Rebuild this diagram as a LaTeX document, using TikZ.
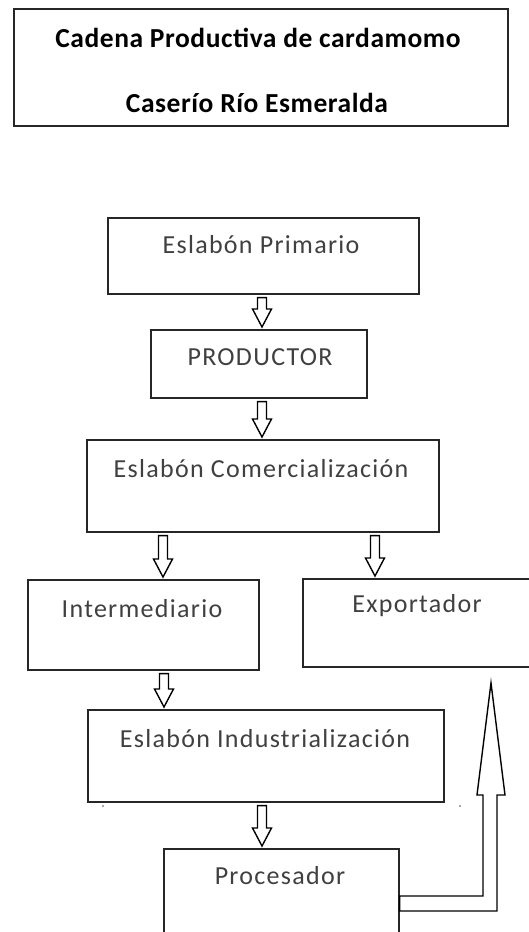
\documentclass[tikz,border=0pt]{standalone}
\usepackage{fontspec}
\setmainfont{Carlito}
\newfontfamily\labfont{Carlito}[LetterSpace=5]
\newfontfamily\titfont{Carlito}[LetterSpace=2]
\usetikzlibrary{calc}
\tikzset{
  box/.style={draw=black!85, line width=1.6pt, inner sep=0pt, anchor=north west},
  lab/.style={anchor=base, inner sep=0pt, text=black!75, font=\labfont\fontsize{26}{30}\selectfont},
  tit/.style={anchor=base, inner sep=0pt, text=black, font=\titfont\bfseries\fontsize{27.5}{32}\selectfont},
  blk/.style={draw=black, line width=1.4pt, fill=white, line join=miter}
}
\newcommand\blockarrow[3]{%
  \draw[blk] let \p1=($(#1,0 |- #2)+(0,3)$), \p2=($(#1,0 |- #3)+(0,-2)$) in
    (\x1-4.5pt,\y1) -- (\x1+4.5pt,\y1) -- (\x1+4.5pt,\y2+18pt) -- (\x1+9.5pt,\y2+18pt)
    -- (\x1,\y2) -- (\x1-9.5pt,\y2+18pt) -- (\x1-4.5pt,\y2+18pt) -- cycle;}
\begin{document}
\begin{tikzpicture}[x=1pt,y=-1pt]
\useasboundingbox[fill=white] (0,0) rectangle (529,932);
% title
\node[box, minimum width=494pt, minimum height=117pt] (title) at (13,8) {};
\node[tit] (t1) at (258,47) {Cadena Productiva de cardamomo};
\node[tit] (t2) at (257,112) {Caserío Río Esmeralda};
% boxes
\node[box, minimum width=311pt, minimum height=76pt] (prim) at (107,217) {};
\node[box, minimum width=216pt, minimum height=68pt] (prod) at (150,329) {};
\node[box, minimum width=352pt, minimum height=92pt] (com) at (86,439) {};
\node[box, minimum width=231pt, minimum height=90pt] (int) at (27,579) {};
\node[box, minimum width=233pt, minimum height=88pt] (exp) at (302,578) {};
\node[box, minimum width=356pt, minimum height=92pt] (ind) at (87,709) {};
\node[box, minimum width=235pt, minimum height=97pt] (proc) at (163,848) {};
% labels
\node[lab] (lprim) at (261,253) {Eslabón Primario};
\node[lab] (lprod) at (260,365) {PRODUCTOR};
\node[lab] (lcom) at (261,477) {Eslabón Comercialización};
\node[lab] (lint) at (142,617) {Intermediario};
\node[lab] (lexp) at (417,612) {Exportador};
\node[lab] (lind) at (265,747) {Eslabón Industrialización};
\node[lab] (lproc) at (280,884) {Procesador};
% block arrows
\blockarrow{262}{prim.south}{prod.north}
\blockarrow{262}{prod.south}{com.north}
\blockarrow{163}{com.south}{int.north}
\blockarrow{375}{com.south}{exp.north}
\blockarrow{164}{int.south}{ind.north}
\blockarrow{262}{ind.south}{proc.north}
% L-shaped arrow from Procesador up toward Exportador
\coordinate (tip) at (491,683);
\draw[blk] (proc.east |- 0,896) -- (483,896) -- (483,795) -- (477,795) -- (tip)
  -- (505,795) -- (497,795) -- (497,911) -- (proc.east |- 0,911) -- cycle;
% stray dots
\fill[black!70] (103,806) circle (0.8pt);
\fill[black!70] (460,806) circle (0.8pt);
\end{tikzpicture}
\end{document}
